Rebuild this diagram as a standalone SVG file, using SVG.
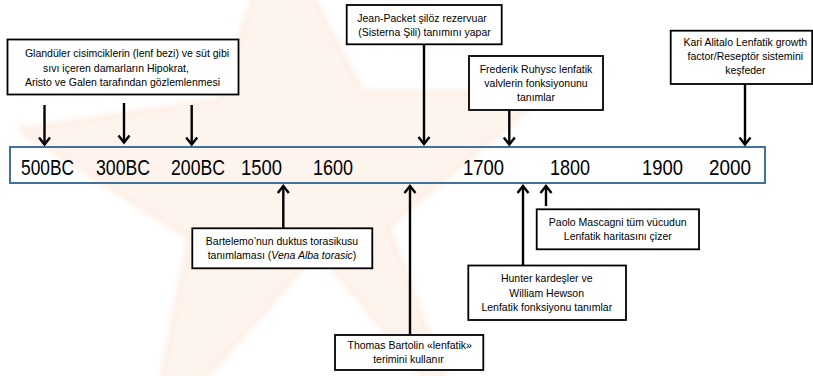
<svg xmlns="http://www.w3.org/2000/svg" width="813" height="376" viewBox="0 0 813 376">
<defs>
<style>
.lbl{font-family:"Liberation Sans",Arial,sans-serif;font-size:10.5px;fill:#000;text-anchor:middle}
.yr{font-family:"Liberation Sans",Arial,sans-serif;font-size:22px;fill:#000}
.box{fill:#fff;stroke:#000;stroke-width:1.8}
.arr{fill:none;stroke:#000;stroke-width:2.4;marker-end:url(#head)}
</style>
<marker id="head" viewBox="-10 -8 12 16" refX="0" refY="0" markerWidth="12" markerHeight="16" markerUnits="userSpaceOnUse" orient="auto">
<path d="M-7,-5.5 L0,0 L-7,5.5" fill="none" stroke="#000" stroke-width="2.4"/>
</marker>
<filter id="soft" x="-10%" y="-10%" width="120%" height="120%"><feGaussianBlur stdDeviation="3"/></filter>
</defs>
<rect width="813" height="376" fill="#fff"/>
<g id="watermark" filter="url(#soft)">
<polygon points="276,-74 362,92 548,92 388,226 460,420 318,250 150,440 190,238 20,130 220,100" fill="#fef4ee" stroke="#fbe6d8" stroke-width="3"/>
</g>
<g id="timeline">
<rect x="10" y="147" width="755" height="36" fill="none" stroke="#41719c" stroke-width="2"/>
<text class="yr" x="21" y="174.5" textLength="53" lengthAdjust="spacingAndGlyphs">500BC</text>
<text class="yr" x="96" y="174.5" textLength="54" lengthAdjust="spacingAndGlyphs">300BC</text>
<text class="yr" x="171" y="174.5" textLength="54" lengthAdjust="spacingAndGlyphs">200BC</text>
<text class="yr" x="241" y="174.5" textLength="41" lengthAdjust="spacingAndGlyphs">1500</text>
<text class="yr" x="313" y="174.5" textLength="40" lengthAdjust="spacingAndGlyphs">1600</text>
<text class="yr" x="463" y="174.5" textLength="41" lengthAdjust="spacingAndGlyphs">1700</text>
<text class="yr" x="550" y="174.5" textLength="40" lengthAdjust="spacingAndGlyphs">1800</text>
<text class="yr" x="642" y="174.5" textLength="41" lengthAdjust="spacingAndGlyphs">1900</text>
<text class="yr" x="709" y="174.5" textLength="42" lengthAdjust="spacingAndGlyphs">2000</text>
</g>
<g id="connectors">
<path class="arr" d="M44.5,105 V144.5"/>
<path class="arr" d="M124,103 V142.5"/>
<path class="arr" d="M191.7,105 V144.5"/>
<path class="arr" d="M424,44.3 V144"/>
<path class="arr" d="M509.3,110 V144.5"/>
<path class="arr" d="M745,84 V144.5"/>
<path class="arr" d="M283.3,228.3 V186"/>
<path class="arr" d="M410,335 V186"/>
<path class="arr" d="M523,265 V186"/>
<path class="arr" d="M546,206 V186"/>
</g>
<g id="n-glanduler">
<rect class="box" x="7.5" y="39.5" width="231" height="55"/>
<text class="lbl" x="127" y="57.3">Glandüler cisimciklerin (lenf bezi) ve süt gibi</text>
<text class="lbl" x="116" y="71.5">sıvı içeren damarların Hipokrat,</text>
<text class="lbl" x="122.5" y="85.7">Aristo ve Galen tarafından gözlemlenmesi</text>
</g>
<g id="n-jean">
<rect class="box" x="346.7" y="5" width="155" height="39.3"/>
<text class="lbl" x="422" y="21.7">Jean-Packet şilöz rezervuar</text>
<text class="lbl" x="424.5" y="36">(Sisterna Şili) tanımını yapar</text>
</g>
<g id="n-frederik">
<rect class="box" x="469" y="56" width="134" height="54"/>
<text class="lbl" x="536" y="72.7">Frederik Ruhysc lenfatik</text>
<text class="lbl" x="536" y="86.8">valvlerin fonksiyonunu</text>
<text class="lbl" x="536" y="101">tanımlar</text>
</g>
<g id="n-kari">
<rect class="box" x="670.7" y="30.7" width="141.5" height="53.3"/>
<text class="lbl" x="745.3" y="46">Kari Alitalo Lenfatik growth</text>
<text class="lbl" x="745.3" y="60">factor/Reseptör sistemini</text>
<text class="lbl" x="745.3" y="74">keşfeder</text>
</g>
<g id="n-bartelemo">
<rect class="box" x="192.3" y="228.3" width="180" height="40"/>
<text class="lbl" x="282" y="245">Bartelemo’nun duktus torasikusu</text>
<text class="lbl" x="282" y="259">tanımlaması (<tspan font-style="italic">Vena Alba torasic</tspan>)</text>
</g>
<g id="n-thomas">
<rect class="box" x="335" y="335" width="148.3" height="35"/>
<text class="lbl" x="409.7" y="349.3">Thomas Bartolin «lenfatik»</text>
<text class="lbl" x="408.5" y="362.7">terimini kullanır</text>
</g>
<g id="n-hunter">
<rect class="box" x="468.3" y="265.5" width="157.7" height="54.5"/>
<text class="lbl" x="546.7" y="282.3">Hunter kardeşler ve</text>
<text class="lbl" x="546.7" y="296.7">William Hewson</text>
<text class="lbl" x="546.8" y="311">Lenfatik fonksiyonu tanımlar</text>
</g>
<g id="n-paolo">
<rect class="box" x="536.7" y="209.3" width="162.3" height="40"/>
<text class="lbl" x="617.7" y="225.7">Paolo Mascagni tüm vücudun</text>
<text class="lbl" x="617.8" y="240">Lenfatik haritasını çizer</text>
</g>
</svg>
